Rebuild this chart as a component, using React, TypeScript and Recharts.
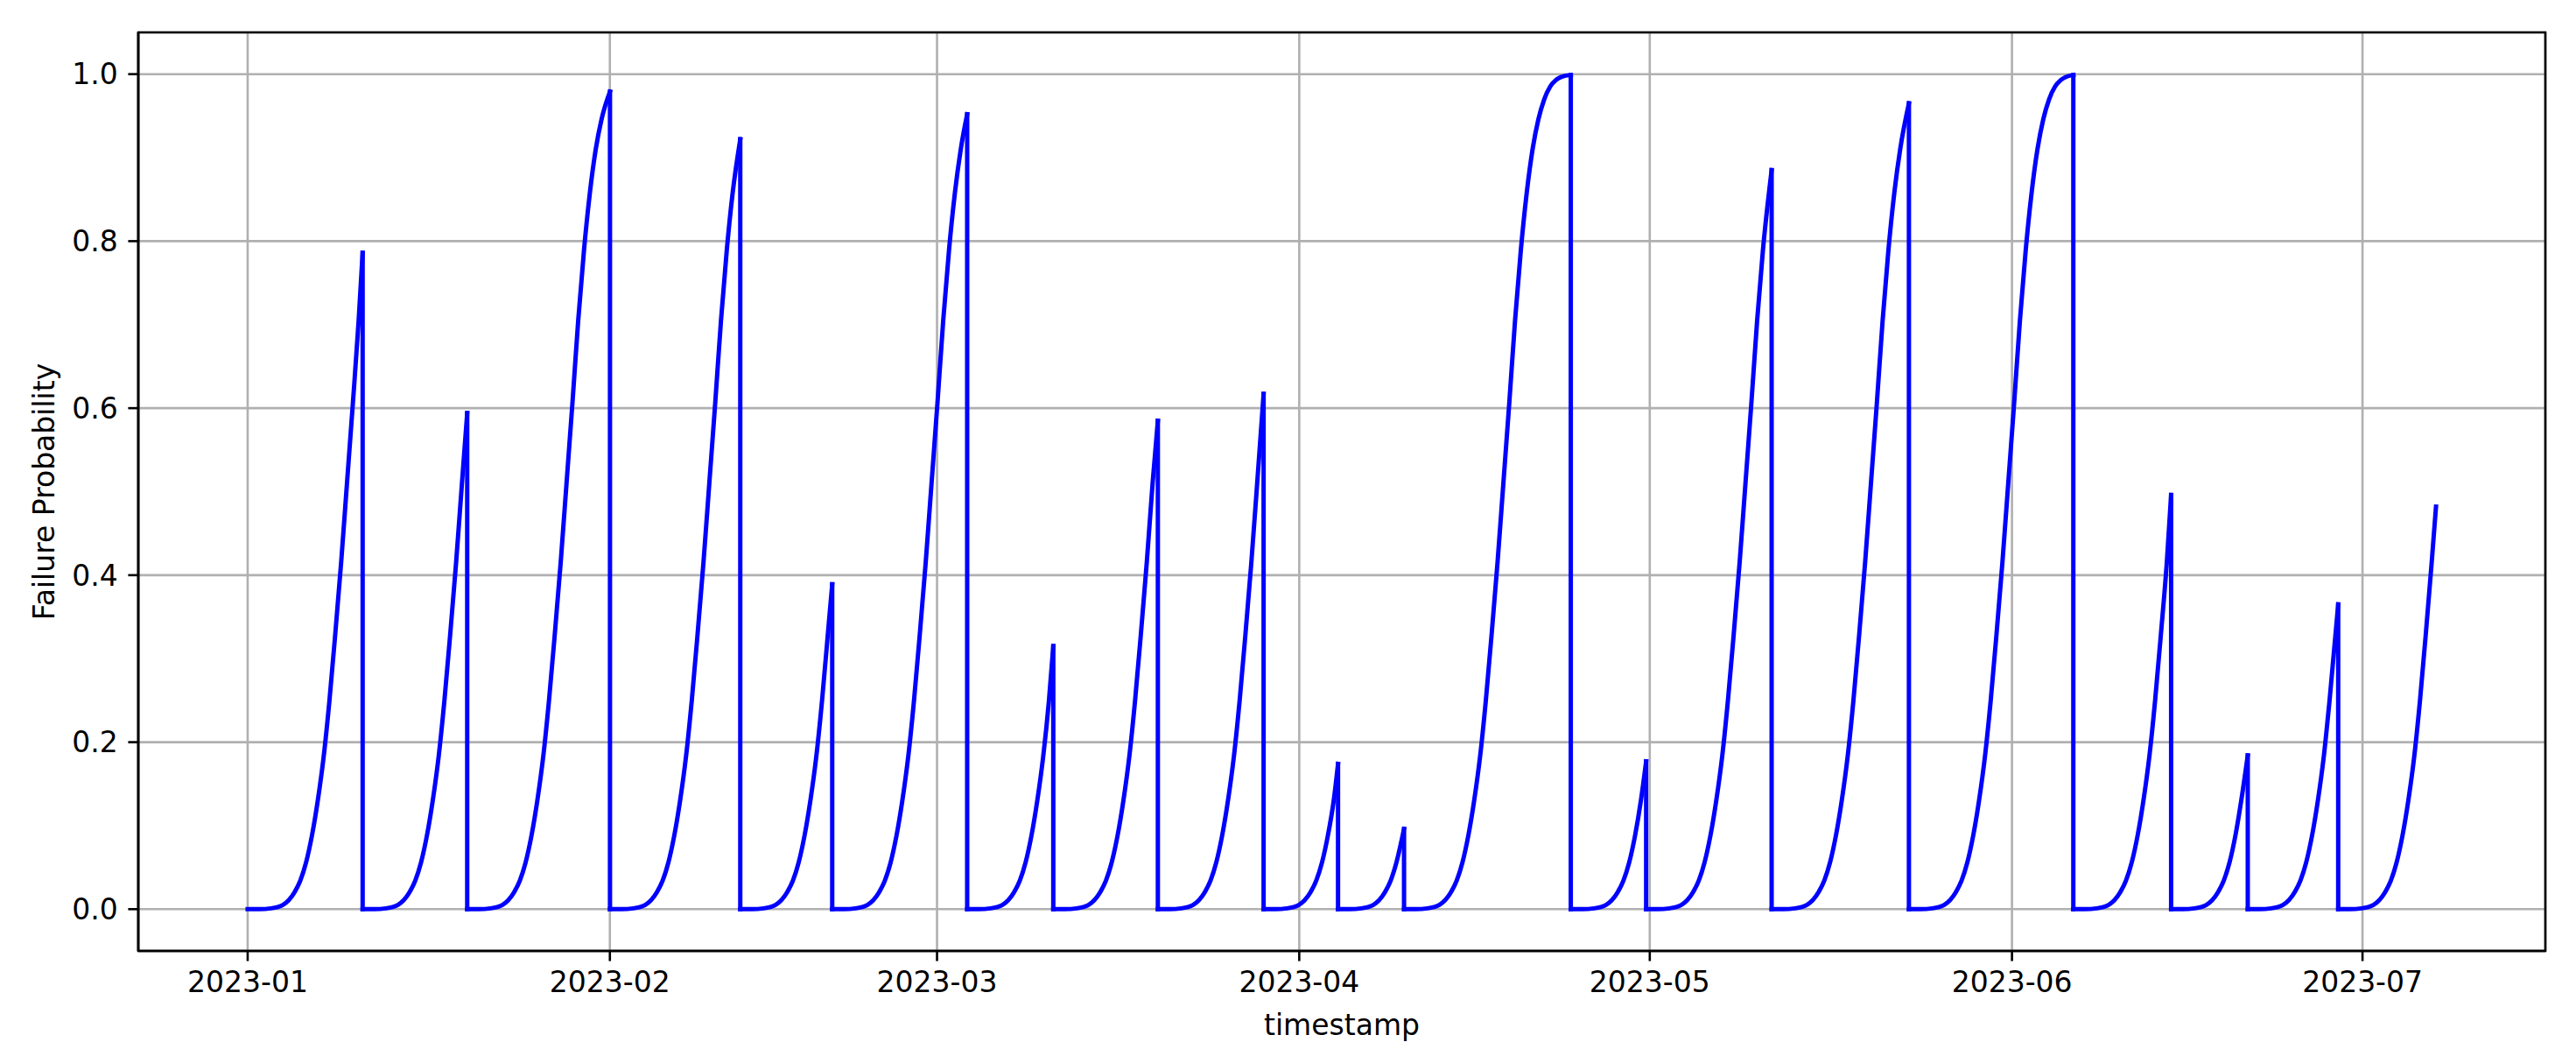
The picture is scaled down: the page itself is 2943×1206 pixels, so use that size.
import React from 'react';
import { LineChart, Line, XAxis, YAxis, CartesianGrid, Label, ReferenceArea } from 'recharts';

// Month ticks (days since 2023-01-01) and labels
const monthTicks = [0, 31, 59, 90, 120, 151, 181];
const monthLabels = ['2023-01', '2023-02', '2023-03', '2023-04', '2023-05', '2023-06', '2023-07'];
const probTicks = [0, 0.2, 0.4, 0.6, 0.8, 1.0];

// Maintenance reset days (segment starts)
const resetDays = [0, 9.84, 18.79, 31.01, 42.16, 50.03, 61.58, 68.95, 77.9, 86.95, 93.32, 98.97, 113.24, 119.69, 130.43, 142.18, 156.25, 164.62, 171.18, 178.92];
const lastDay = 187.29;
// Value reached just before each reset (or at the end of data)
const peakValues = [0.786, 0.594, 0.979, 0.922, 0.389, 0.952, 0.315, 0.585, 0.617, 0.174, 0.096, 0.999, 0.177, 0.885, 0.965, 0.999, 0.496, 0.184, 0.365, 0.482];
// Rise shape after a reset (days since reset -> probability), read from the segments
const shapeOffsets = [0, 1, 2, 3, 4, 4.5, 5, 5.5, 6, 6.5, 7, 7.5, 8, 8.5, 9, 9.5, 10, 10.5, 11, 11.5, 12, 12.5, 13, 13.5, 14];
const shapeValues = [0, 0, 0.001, 0.005, 0.02, 0.034, 0.056, 0.088, 0.13, 0.182, 0.25, 0.33, 0.415, 0.51, 0.605, 0.705, 0.79, 0.858, 0.91, 0.946, 0.97, 0.985, 0.993, 0.997, 0.999];

const segments = resetDays.map((start, i) => {
  const end = i + 1 < resetDays.length ? resetDays[i + 1] : lastDay;
  const key = `s${i}`;
  const pts: any[] = [];
  shapeOffsets.forEach((o, k) => {
    if (start + o < end - 0.3) pts.push({ t: start + o, [key]: shapeValues[k] });
  });
  pts.push({ t: end, [key]: peakValues[i] });
  return { key, pts };
});

const drops: any[] = [];
resetDays.slice(1).forEach((d, i) => {
  drops.push({ t: d, drop: peakValues[i] }, { t: d, drop: 0 }, { t: d, drop: null });
});

const FONT = 'DejaVu Sans';
const FS = 33;
const xDomain = [-9.36, 196.65];
const yDomain = [-0.05, 1.05];

const YLabel = (props: any) => {
  const vb = props.viewBox || {};
  const cy = (vb.y ?? 37) + (vb.height ?? 1049) / 2;
  return (
    <text x={50} y={cy} transform={`rotate(-90 50 ${cy})`} textAnchor="middle" dominantBaseline="central"
      fontFamily={FONT} fontSize={FS} fill="#000">Failure Probability</text>
  );
};

const XLabel = (props: any) => {
  const vb = props.viewBox || {};
  const cx = (vb.x ?? 158) + (vb.width ?? 2750) / 2;
  return (
    <text x={cx} y={1170} textAnchor="middle" dominantBaseline="central"
      fontFamily={FONT} fontSize={FS} fill="#000">timestamp</text>
  );
};

export default function App() {
  return (
    <div style={{ position: 'absolute', left: 0, top: 0, background: '#fff' }}>
      <LineChart width={2943} height={1206} margin={{ top: 37, right: 35, bottom: 0, left: 0 }}>
        <CartesianGrid stroke="#b0b0b0" strokeWidth={2.6} />
        <XAxis
          dataKey="t"
          type="number"
          domain={xDomain}
          allowDataOverflow
          ticks={monthTicks}
          interval={0}
          tickFormatter={(v: number) => monthLabels[monthTicks.indexOf(v)] ?? ''}
          height={120}
          tickSize={11.6}
          tickMargin={11.6}
          axisLine={{ stroke: '#000', strokeWidth: 2.6 }}
          tickLine={{ stroke: '#000', strokeWidth: 2.6 }}
          tick={{ fill: '#000', fontSize: FS, fontFamily: FONT }}
        >
          <Label content={XLabel} />
        </XAxis>
        <YAxis
          type="number"
          domain={yDomain}
          allowDataOverflow
          ticks={probTicks}
          interval={0}
          tickFormatter={(v: number) => v.toFixed(1)}
          width={158}
          tickSize={11.6}
          tickMargin={11.6}
          axisLine={{ stroke: '#000', strokeWidth: 2.6 }}
          tickLine={{ stroke: '#000', strokeWidth: 2.6 }}
          tick={{ fill: '#000', fontSize: FS, fontFamily: FONT }}
        >
          <Label content={YLabel} />
        </YAxis>
        <ReferenceArea
          x1={xDomain[0]}
          x2={xDomain[1]}
          y1={yDomain[0]}
          y2={yDomain[1]}
          fill="none"
          fillOpacity={0}
          stroke="#000"
          strokeWidth={2.6}
          ifOverflow="visible"
        />
        {segments.map((s) => (
          <Line
            key={s.key}
            data={s.pts}
            dataKey={s.key}
            type="monotone"
            stroke="#0000ff"
            strokeWidth={5}
            strokeLinejoin="round"
            strokeLinecap="square"
            dot={false}
            activeDot={false}
            isAnimationActive={false}
          />
        ))}
        <Line
          data={drops}
          dataKey="drop"
          type="linear"
          stroke="#0000ff"
          strokeWidth={5}
          strokeLinecap="square"
          connectNulls={false}
          dot={false}
          activeDot={false}
          isAnimationActive={false}
        />
      </LineChart>
    </div>
  );
}
